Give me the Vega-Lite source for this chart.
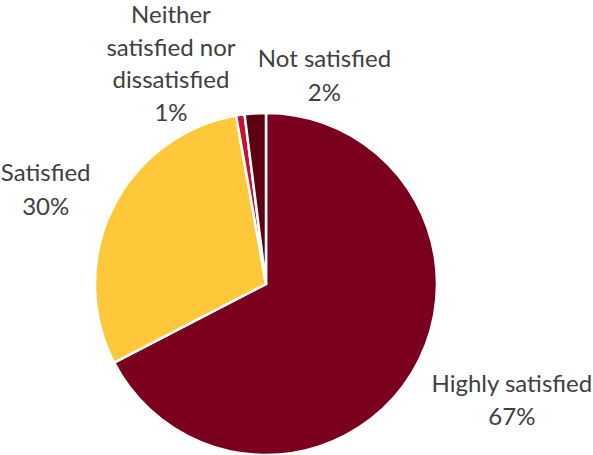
{
  "$schema": "https://vega.github.io/schema/vega-lite/v6.json",
  "autosize": {"type": "none"},
  "width": 342,
  "height": 342,
  "padding": {"left": 95, "top": 113, "right": 156, "bottom": 0},
  "background": "white",
  "config": {"view": {"stroke": null}},
  "data": {
    "values": [
      {"category": "Highly satisfied", "value": 67.4, "order": 1, "label": "Highly satisfied|67%"},
      {"category": "Satisfied", "value": 29.8, "order": 2, "label": "Satisfied|30%"},
      {"category": "Neither satisfied nor dissatisfied", "value": 0.8, "order": 3, "label": "Neither|satisfied nor|dissatisfied|1%"},
      {"category": "Not satisfied", "value": 2.0, "order": 4, "label": "Not satisfied|2%"}
    ]
  },
  "transform": [
    {"stack": "value", "groupby": [], "sort": [{"field": "order", "order": "ascending"}], "as": ["v0", "v1"]},
    {"calculate": "(datum.v0 + datum.v1) / 2", "as": "mid"}
  ],
  "layer": [
    {
      "mark": {"type": "arc", "outerRadius": 171, "stroke": "white", "strokeWidth": 2.5},
      "encoding": {
        "theta": {"field": "v0", "type": "quantitative", "scale": {"domain": [0, 100]}},
        "theta2": {"field": "v1"},
        "color": {
          "field": "category",
          "type": "nominal",
          "scale": {
            "domain": ["Highly satisfied", "Satisfied", "Neither satisfied nor dissatisfied", "Not satisfied"],
            "range": ["#7A001D", "#FFC83A", "#C8102E", "#5A0010"]
          },
          "legend": null
        }
      }
    },
    {
      "transform": [{"filter": "datum.category == 'Highly satisfied'"}],
      "mark": {"type": "text", "radius": 200, "dx": 75, "dy": -3, "fontSize": 24, "font": "Lato", "color": "#404040", "lineBreak": "|", "lineHeight": 33, "align": "center", "baseline": "middle"},
      "encoding": {"theta": {"field": "mid", "type": "quantitative", "scale": {"domain": [0, 100]}}, "text": {"field": "label"}}
    },
    {
      "transform": [{"filter": "datum.category == 'Satisfied'"}],
      "mark": {"type": "text", "radius": 200, "dx": -41, "dy": -21, "fontSize": 24, "font": "Lato", "color": "#404040", "lineBreak": "|", "lineHeight": 34, "align": "center", "baseline": "middle"},
      "encoding": {"theta": {"field": "mid", "type": "quantitative", "scale": {"domain": [0, 100]}}, "text": {"field": "label"}}
    },
    {
      "transform": [{"filter": "datum.category == 'Neither satisfied nor dissatisfied'"}],
      "mark": {"type": "text", "radius": 200, "dx": -65, "dy": -70, "fontSize": 24, "font": "Lato", "color": "#404040", "lineBreak": "|", "lineHeight": 32.5, "align": "center", "baseline": "middle"},
      "encoding": {"theta": {"field": "mid", "type": "quantitative", "scale": {"domain": [0, 100]}}, "text": {"field": "label"}}
    },
    {
      "transform": [{"filter": "datum.category == 'Not satisfied'"}],
      "mark": {"type": "text", "radius": 200, "dx": 71, "dy": -24, "fontSize": 24, "font": "Lato", "color": "#404040", "lineBreak": "|", "lineHeight": 34, "align": "center", "baseline": "middle"},
      "encoding": {"theta": {"field": "mid", "type": "quantitative", "scale": {"domain": [0, 100]}}, "text": {"field": "label"}}
    }
  ]
}
